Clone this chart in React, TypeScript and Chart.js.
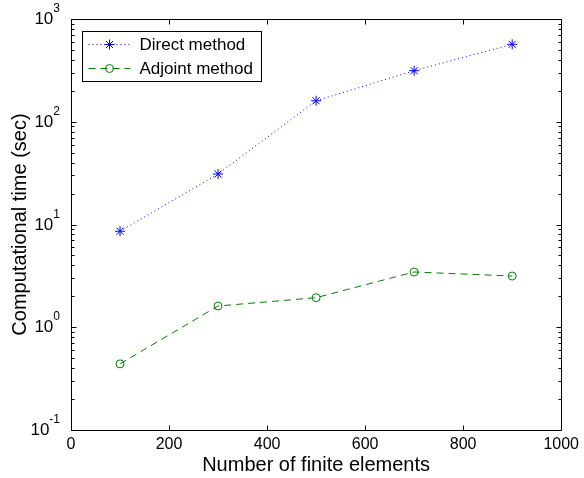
import React, { useEffect, useRef } from 'react';
import { Chart, registerables } from 'chart.js';
import { drawPoint } from 'chart.js/helpers';

Chart.register(...registerables);

const elements = [100, 300, 500, 700, 900];
const directTime = [8.6, 31, 160, 314, 567];
const adjointTime = [0.44, 1.61, 1.94, 3.45, 3.15];
const xTicks = [0, 200, 400, 600, 800, 1000];
const yExponents = [-1, 0, 1, 2, 3];
const seriesLabels = ['Direct method', 'Adjoint method'];
const xTitle = 'Number of finite elements';
const yTitle = 'Computational time (sec)';

const FONT = '"Liberation Sans", Arial, Helvetica, sans-serif';
const AXIS = '#000000';

const framePlugin = {
  id: 'matlabFrame',
  afterDatasetsDraw(chart: any) {
    const { ctx, chartArea: a, scales } = chart;
    const x = scales.x;
    const y = scales.y;
    ctx.save();
    ctx.strokeStyle = AXIS;
    ctx.lineWidth = 1;
    ctx.setLineDash([]);
    const L = Math.round(a.left) + 0.5;
    const R = Math.round(a.right) + 0.5;
    const T = Math.round(a.top) + 0.5;
    const B = Math.round(a.bottom) + 0.5;
    ctx.strokeRect(L, T, R - L, B - T);
    ctx.beginPath();
    for (const v of xTicks) {
      const px = Math.round(x.getPixelForValue(v)) + 0.5;
      ctx.moveTo(px, B);
      ctx.lineTo(px, B - 5);
      ctx.moveTo(px, T);
      ctx.lineTo(px, T + 5);
    }
    for (const e of yExponents) {
      for (let m = 1; m <= 9; m++) {
        const v = m * Math.pow(10, e);
        if (v > 1000.0001) break;
        const py = Math.round(y.getPixelForValue(v)) + 0.5;
        const len = m === 1 ? 5 : 3;
        ctx.moveTo(L, py);
        ctx.lineTo(L + len, py);
        ctx.moveTo(R, py);
        ctx.lineTo(R - len, py);
      }
    }
    ctx.stroke();

    // y tick labels with superscript exponents
    ctx.fillStyle = '#000';
    const rightEdge = a.left - 11;
    for (const e of yExponents) {
      const py = y.getPixelForValue(Math.pow(10, e));
      const exp = String(e);
      ctx.font = `12px ${FONT}`;
      const ew = ctx.measureText(exp).width;
      ctx.textAlign = 'left';
      ctx.textBaseline = 'alphabetic';
      ctx.fillText(exp, rightEdge - ew, py - 7);
      ctx.font = `17px ${FONT}`;
      ctx.textAlign = 'right';
      ctx.textBaseline = 'alphabetic';
      ctx.fillText('10', rightEdge - ew, py + 5);
    }
    ctx.restore();
  },
  afterDraw(chart: any) {
    const { ctx, chartArea: a } = chart;
    ctx.save();
    const bx = Math.round(a.left) + 11.5;
    const by = Math.round(a.top) + 12.5;
    const bw = 179;
    const bh = 50;
    ctx.fillStyle = '#ffffff';
    ctx.fillRect(bx, by, bw, bh);
    ctx.strokeStyle = AXIS;
    ctx.lineWidth = 1;
    ctx.setLineDash([]);
    ctx.strokeRect(bx, by, bw, bh);
    chart.data.datasets.forEach((ds: any, i: number) => {
      const ry = by + 13 + i * 24;
      const x0 = bx + 6;
      const x1 = bx + 48;
      ctx.strokeStyle = ds.borderColor;
      ctx.lineWidth = ds.borderWidth;
      ctx.setLineDash(ds.borderDash || []);
      ctx.beginPath();
      ctx.moveTo(x0, ry);
      ctx.lineTo(x1, ry);
      ctx.stroke();
      ctx.setLineDash([]);
      ctx.fillStyle = 'rgba(0,0,0,0)';
      ctx.strokeStyle = ds.pointBorderColor;
      ctx.lineWidth = ds.pointBorderWidth;
      drawPoint(ctx, { pointStyle: ds.pointStyle, radius: ds.pointRadius, rotation: 0, borderWidth: ds.pointBorderWidth } as any, (x0 + x1) / 2, ry);
      ctx.fillStyle = '#000';
      ctx.font = `17px ${FONT}`;
      ctx.textAlign = 'left';
      ctx.textBaseline = 'middle';
      ctx.fillText(ds.label, bx + 57, ry + 1);
    });
    ctx.restore();
  },
};

export default function App() {
  const ref = useRef<HTMLCanvasElement | null>(null);
  useEffect(() => {
    if (!ref.current) return;
    const chart = new Chart(ref.current, {
      type: 'line',
      data: {
        datasets: [
          {
            label: seriesLabels[0],
            data: elements.map((v, i) => ({ x: v, y: directTime[i] })),
            borderColor: '#0000ff',
            borderWidth: 1,
            borderDash: [1, 3],
            pointStyle: 'star',
            pointRadius: 5,
            pointBorderColor: '#0000ff',
            pointBackgroundColor: 'rgba(0,0,0,0)',
            pointBorderWidth: 1,
            fill: false,
            tension: 0,
          },
          {
            label: seriesLabels[1],
            data: elements.map((v, i) => ({ x: v, y: adjointTime[i] })),
            borderColor: '#008000',
            borderWidth: 1,
            borderDash: [7, 5],
            pointStyle: 'circle',
            pointRadius: 4,
            pointBorderColor: '#008000',
            pointBackgroundColor: 'rgba(0,0,0,0)',
            pointBorderWidth: 1,
            fill: false,
            tension: 0,
          },
        ],
      },
      options: {
        animation: false,
        responsive: true,
        maintainAspectRatio: false,
        events: [],
        layout: { padding: { top: 19, right: 21, left: 0, bottom: 0 } },
        plugins: {
          legend: { display: false },
          tooltip: { enabled: false },
        },
        scales: {
          x: {
            type: 'linear',
            min: 0,
            max: 1000,
            afterBuildTicks: (scale: any) => {
              scale.ticks = xTicks.map((v) => ({ value: v }));
            },
            afterFit: (scale: any) => {
              scale.height = 48;
            },
            grid: { display: false, drawTicks: false },
            border: { display: false },
            ticks: {
              color: '#000',
              font: { family: FONT, size: 16 },
              padding: 5,
              maxRotation: 0,
              autoSkip: false,
              callback: (v: any) => String(v),
            },
            title: {
              display: true,
              text: xTitle,
              color: '#000',
              font: { family: FONT, size: 20 },
              padding: { top: 0, bottom: 1 },
            },
          },
          y: {
            type: 'logarithmic',
            min: 0.1,
            max: 1000,
            afterFit: (scale: any) => {
              scale.width = 71;
            },
            grid: { display: false, drawTicks: false },
            border: { display: false },
            ticks: { display: false },
            title: {
              display: true,
              text: yTitle,
              color: '#000',
              font: { family: FONT, size: 20 },
              padding: { top: 8, bottom: 0 },
            },
          },
        },
      },
      plugins: [framePlugin],
    });
    return () => chart.destroy();
  }, []);
  return (
    <div style={{ position: 'fixed', left: 0, top: 0, width: 584, height: 478, background: '#fff' }}>
      <canvas ref={ref} />
    </div>
  );
}
